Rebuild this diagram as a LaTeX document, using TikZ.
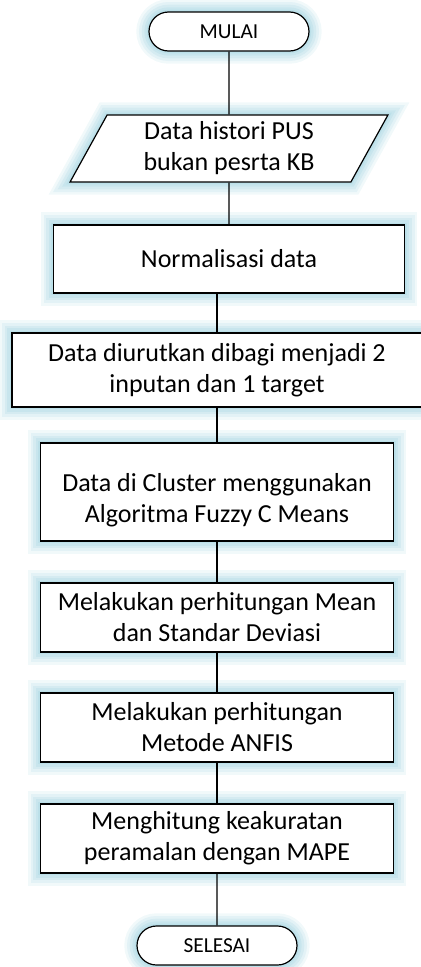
\documentclass[tikz,border=0pt]{standalone}
\usepackage{fontspec}
\setmainfont{Carlito}
\usetikzlibrary{shapes.geometric,shapes.misc}
\definecolor{glowblue}{RGB}{140,202,218}

\begin{document}
\begin{tikzpicture}[x=0.75pt, y=-0.75pt,
    glow/.style={preaction={draw=glowblue, draw opacity=0.12, line width=19pt},
                 preaction={draw=glowblue, draw opacity=0.14, line width=15pt},
                 preaction={draw=glowblue, draw opacity=0.16, line width=11pt},
                 preaction={draw=glowblue, draw opacity=0.18, line width=7pt},
                 preaction={draw=glowblue, draw opacity=0.2, line width=3.5pt}},
    proses/.style={glow, draw, fill=white, line width=0.9pt, align=center, inner sep=0pt,
                   font=\fontsize{19.5}{23.25}\selectfont},
    terminal/.style={glow, rounded rectangle, draw, fill=white, line width=0.9pt, inner sep=0pt,
                     minimum width=120pt, minimum height=29.25pt, font=\fontsize{16}{17}\selectfont},
    masukan/.style={proses, trapezium, trapezium left angle=64, trapezium right angle=116,
                    trapezium stretches=true, minimum width=238.5pt, minimum height=50.25pt}]
        \useasboundingbox (0,0) rectangle (421,967);
        
        \node[terminal] (mulai) at (229,31.5) {MULAI};
        \node[masukan] (hist) at (229,148.5) {Data histori PUS\\bukan pesrta KB};
        \node[proses, minimum width=263.25pt, minimum height=51pt] (norm) at (229,259) {Normalisasi data};
        \node[proses, minimum width=307.5pt, minimum height=55.5pt] (urut) at (217,370) {Data diurutkan dibagi menjadi 2\\inputan dan 1 target};
        \node[proses, minimum width=264.75pt, minimum height=73.5pt] (clus) at (217,492) {\rule{0pt}{26pt}Data di Cluster menggunakan\\Algoritma Fuzzy C Means};
        \node[proses, minimum width=264.75pt, minimum height=51.75pt] (mean) at (217,617.5) {Melakukan perhitungan Mean\\dan Standar Deviasi};
        \node[proses, minimum width=264.75pt, minimum height=51.75pt] (anfis) at (217,727.5) {Melakukan perhitungan\\Metode ANFIS};
        \node[proses, minimum width=264.75pt, minimum height=51.75pt] (mape) at (217,838.5) {Menghitung keakuratan\\peramalan dengan MAPE};
        \node[terminal] (selesai) at (217,945.5) {SELESAI};
        
        \draw[line width=1pt] (mulai) -- (hist);
        \draw[line width=1pt] (hist) -- (norm);
        \draw[line width=1pt] (norm.south -| urut) -- (urut);
        \draw[line width=1pt] (urut) -- (clus);
        \draw[line width=1pt] (clus) -- (mean);
        \draw[line width=1pt] (mean) -- (anfis);
        \draw[line width=1pt] (anfis) -- (mape);
        \draw[line width=1pt] (mape) -- (selesai);
        
    \end{tikzpicture}
\end{document}
